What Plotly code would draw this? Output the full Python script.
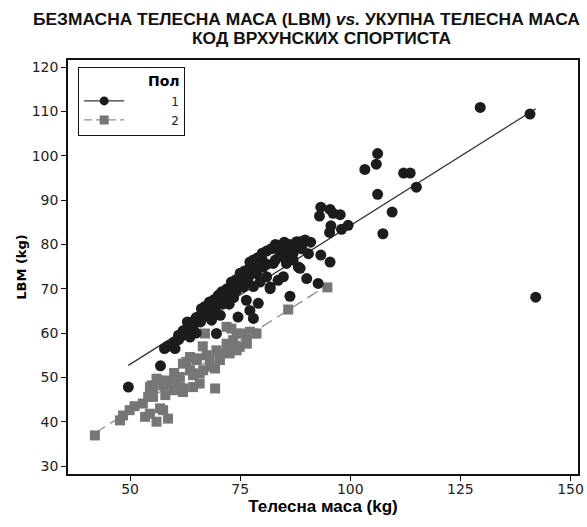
import plotly.graph_objects as go

# Group 1 (Пол = 1): body mass (kg), LBM (kg)
g1_x = [49.6, 56.9, 59.4, 60.2, 62.0, 63.6, 64.3, 65.0, 66.6, 67.4, 68.5, 69.6, 68.0, 69.5,
        70.8, 71.9, 70.5, 72.5, 73.5, 74.2, 74.5, 75.7, 76.4, 76.8, 77.2, 78.0, 78.7, 79.1,
        78.0, 79.5, 80.2, 81.0, 81.8, 82.5, 83.3, 83.6, 84.0, 84.8, 85.5, 85.9, 86.3, 87.0,
        87.8, 88.2, 88.6, 89.3, 89.7, 90.1, 90.5, 88.6, 91.0, 92.7, 93.3, 95.4, 81.8,
        93.3, 93.0, 95.4, 96.1, 97.7, 95.6, 95.3, 98.0, 99.5, 103.3, 105.9, 106.2, 106.2,
        107.4, 109.5, 112.1, 113.6, 115.0, 129.5, 140.8, 142.1,
        60.0, 61.0, 62.0, 63.0, 64.0, 65.0, 66.0, 66.2, 67.0, 68.0, 69.0, 70.0, 71.0, 72.0,
        73.0, 74.0, 75.0, 76.0, 77.0, 77.2, 78.0, 79.0, 80.0, 81.0, 82.0, 83.0, 84.0, 85.0,
        86.0, 86.2, 87.0, 88.0, 89.0, 85.0, 83.0, 81.0, 80.0, 79.0, 77.0, 76.0, 75.0, 74.0,
        73.0, 72.0, 71.0, 70.0, 69.0, 67.0, 66.0, 64.0, 63.0, 61.0, 57.8, 58.5]
g1_y = [47.8, 52.6, 57.2, 56.5, 59.5, 59.1, 61.4, 60.0, 63.6, 65.1, 62.9, 59.9, 64.5, 66.0,
        69.3, 69.7, 64.0, 66.5, 68.0, 69.7, 63.6, 70.4, 67.4, 72.3, 65.1, 63.3, 73.4, 66.7,
        70.5, 71.5, 74.9, 72.7, 70.4, 75.7, 79.4, 71.9, 77.9, 72.7, 75.7, 79.8, 68.3, 76.5,
        80.6, 74.9, 80.6, 80.6, 81.0, 72.3, 77.9, 74.6, 80.5, 71.2, 77.6, 76.0, 70.0,
        88.4, 86.4, 87.9, 87.0, 86.7, 84.2, 82.7, 83.4, 84.3, 96.9, 98.1, 100.5, 91.3,
        82.4, 87.3, 96.1, 96.1, 92.9, 110.9, 109.4, 68.1,
        58.0, 58.5, 60.5, 61.0, 62.5, 63.5, 64.0, 65.5, 66.0, 67.0, 67.5, 68.5, 68.0, 70.0,
        71.5, 72.0, 72.5, 74.0, 74.5, 76.0, 76.5, 77.0, 78.0, 78.5, 79.0, 80.0, 79.5, 80.5,
        78.5, 80.0, 78.0, 79.5, 79.0, 77.0, 76.5, 75.5, 76.5, 74.5, 73.0, 71.5, 73.5, 70.5,
        69.5, 68.0, 66.5, 67.0, 65.0, 64.0, 62.5, 60.0, 62.5, 59.5, 56.5, 57.0]

# Group 2 (Пол = 2)
g2_x = [42.0, 47.7, 48.4, 49.9, 52.9, 53.4, 54.5, 56.0, 58.6, 57.5, 54.1, 55.2, 56.0, 59.0,
        59.8, 62.0, 69.3, 62.8, 65.1, 67.4, 69.6, 71.9, 73.4, 74.2, 75.7, 78.0, 76.5, 66.6,
        68.1, 64.3, 61.3, 57.5, 65.8, 56.8, 55.2, 54.9, 56.4, 58.3, 61.3, 54.5, 56.8, 62.0,
        64.3, 63.6, 65.8, 62.0, 63.6, 65.2, 68.1, 70.4, 72.6, 69.3, 70.4, 72.3, 74.9, 76.4,
        74.2, 71.9, 77.2, 78.7, 67.0, 71.8, 85.9, 94.8, 60.5, 58.0, 51.0, 60.0, 66.5, 73.0]
g2_y = [36.9, 40.3, 41.4, 42.6, 44.1, 41.1, 41.8, 40.0, 40.7, 42.6, 45.6, 47.8, 49.7, 49.3,
        47.1, 47.5, 47.5, 53.5, 53.9, 55.0, 56.1, 57.6, 58.4, 56.1, 59.9, 59.9, 57.6, 51.6,
        52.4, 50.5, 50.1, 48.2, 48.6, 43.0, 45.6, 48.2, 49.3, 48.6, 47.8, 47.8, 49.3, 46.7,
        47.8, 51.6, 50.9, 53.1, 54.6, 54.3, 54.6, 55.4, 55.4, 52.0, 53.9, 56.9, 56.9, 58.4,
        59.9, 61.4, 60.3, 59.9, 59.9, 67.4, 65.3, 70.3, 48.5, 46.0, 43.5, 51.0, 57.0, 61.0]

# Fitted regression lines
fit1_x = [49.6, 142.1]
fit1_y = [52.7, 110.6]
fit2_x = [42.0, 94.8]
fit2_y = [37.4, 70.8]

group_names = ["1", "2"]

C1 = "#1c1c1c"
C2 = "#767676"
NB = "\u00a0"

W, H = 587, 527
ML, MR, MT, MB = 68, 9, 60, 53

fig = go.Figure()
fig.add_trace(go.Scatter(x=fit1_x, y=fit1_y, mode="lines", line=dict(color="#333333", width=1.3),
                         showlegend=False, hoverinfo="skip"))
fig.add_trace(go.Scatter(x=fit2_x, y=fit2_y, mode="lines", line=dict(color="#8a8a8a", width=1.3, dash="12px,6px"),
                         showlegend=False, hoverinfo="skip"))
fig.add_trace(go.Scatter(x=g2_x, y=g2_y, mode="markers",
                         marker=dict(symbol="square", size=10, color=C2), showlegend=False))
fig.add_trace(go.Scatter(x=g1_x, y=g1_y, mode="markers",
                         marker=dict(symbol="circle", size=11, color=C1), showlegend=False))
# legend entries
fig.add_trace(go.Scatter(x=[None], y=[None], mode="lines+markers", name=NB * 11 + group_names[0],
                         line=dict(color="#333333", width=1.3),
                         marker=dict(symbol="circle", size=9, color=C1)))
fig.add_trace(go.Scatter(x=[None], y=[None], mode="lines+markers", name=NB * 11 + group_names[1],
                         line=dict(color="#8a8a8a", width=1.3, dash="8px,4px"),
                         marker=dict(symbol="square", size=9, color=C2)))

axis_common = dict(showgrid=False, zeroline=False, showline=True, linecolor="#111111", linewidth=1.5,
                   mirror=True, ticks="outside", ticklen=5, tickwidth=1.3, tickcolor="#111111",
                   tickfont=dict(family="DejaVu Sans", size=14, color="#222222"))

def px_to_paper(xpx, ypx):
    return (xpx - ML) / (W - ML - MR), (H - ypx - MB) / (H - MT - MB)

t1x, t1y = px_to_paper(306, 19)
t2x, t2y = px_to_paper(321, 38)
lgx, lgy = px_to_paper(78, 67)

fig.update_layout(
    width=W, height=H,
    margin=dict(l=ML, r=MR, t=MT, b=MB, autoexpand=False),
    paper_bgcolor="white", plot_bgcolor="white",
    xaxis=dict(range=[35.9, 151.7], tickvals=[50, 75, 100, 125, 150], ticklabelstandoff=-4,
               title=dict(text="<b>Телесна маса (kg)</b>", font=dict(family="Liberation Sans", size=17, color="#000"),
                          standoff=4),
               **axis_common),
    yaxis=dict(range=[28.2, 121.6], tickvals=[30, 40, 50, 60, 70, 80, 90, 100, 110, 120],
               title=dict(text="<b>LBM (kg)</b>", font=dict(family="DejaVu Sans", size=13, color="#000"),
                          standoff=2),
               **axis_common),
    legend=dict(x=lgx, y=lgy, xanchor="left", yanchor="top",
                bgcolor="white", bordercolor="#111111", borderwidth=1.2,
                font=dict(family="DejaVu Sans", size=12, color="#222222"),
                title=dict(text=NB * 15 + "<b>Пол</b>", font=dict(family="DejaVu Sans", size=14, color="#000")),
                itemwidth=40, tracegroupgap=0),
    annotations=[
        dict(text="<b>БЕЗМАСНА ТЕЛЕСНА МАСА (LBM) <i>vs.</i> УКУПНА ТЕЛЕСНА МАСА</b>", x=t1x, y=t1y,
             xanchor="center", yanchor="middle", xref="paper", yref="paper", showarrow=False,
             font=dict(family="Liberation Sans", size=17.4, color="#111")),
        dict(text="<b>КОД ВРХУНСКИХ СПОРТИСТА</b>", x=t2x, y=t2y,
             xanchor="center", yanchor="middle", xref="paper", yref="paper", showarrow=False,
             font=dict(family="Liberation Sans", size=17.4, color="#111")),
    ],
)

fig.write_html("out.html", config={"displayModeBar": False},
               post_script="document.body.style.margin='0';document.body.style.overflow='hidden';")
